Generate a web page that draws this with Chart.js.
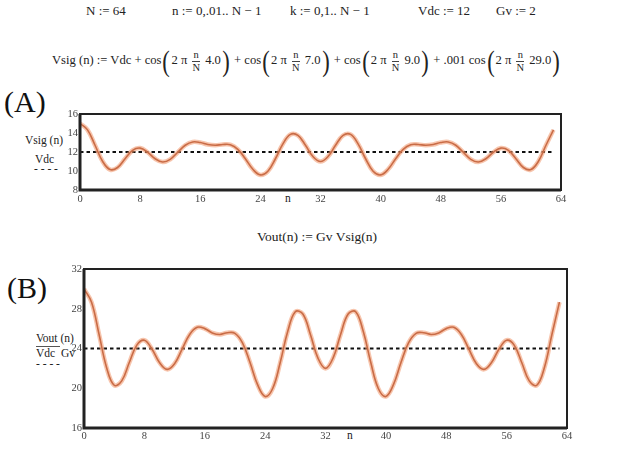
<!DOCTYPE html>
<html>
<head>
<meta charset="utf-8">
<script src="https://cdn.jsdelivr.net/npm/chart.js@4.4.1/dist/chart.umd.min.js"></script>
<style>
  html, body { margin:0; padding:0; background:#fff; }
  body { width:640px; height:473px; position:relative; overflow:hidden; font-family:"Liberation Serif","DejaVu Serif",serif; color:#222; }
  .t { position:absolute; white-space:nowrap; font-size:13px; line-height:1; }
  .lab { font-size:11.5px; }
  .big { position:absolute; font-size:30px; line-height:1; color:#111; }
  .frac { display:inline-block; vertical-align:middle; text-align:center; font-size:10.5px; line-height:1.05; margin:0 2px; }
  .frac span { display:block; }
  .frac span:first-child { border-bottom:1px solid #444; padding:0 1px; }
  .par { font-size:30px; vertical-align:middle; display:inline-block; transform:scaleX(0.75); font-weight:300; }
  .box { position:absolute; left:0; width:640px; }
</style>
</head>
<body>
<div class="t" style="left:86px;top:4px">N := 64</div>
<div class="t" style="left:172px;top:4px">n := 0,.01.. N − 1</div>
<div class="t" style="left:290px;top:4px">k := 0,1.. N − 1</div>
<div class="t" style="left:418px;top:4px">Vdc := 12</div>
<div class="t" style="left:496px;top:4px">Gv := 2</div>

<div class="t" style="left:52px;top:46px;font-size:12.6px">Vsig (n) := Vdc + cos<span class="par">(</span>2 π <span class="frac"><span>n</span><span>N</span></span> 4.0<span class="par">)</span> + cos<span class="par">(</span>2 π <span class="frac"><span>n</span><span>N</span></span> 7.0<span class="par">)</span> + cos<span class="par">(</span>2 π <span class="frac"><span>n</span><span>N</span></span> 9.0<span class="par">)</span> + .001 cos<span class="par">(</span>2 π <span class="frac"><span>n</span><span>N</span></span> 29.0<span class="par">)</span></div>

<div class="big" style="left:4px;top:87px">(A)</div>
<div class="t lab" style="left:25px;top:135px">Vsig (n)</div>
<div class="t lab" style="left:35px;top:154px">Vdc</div>
<div class="t lab" style="left:34px;top:163px">- - - -</div>
<div class="t lab" style="left:285px;top:193px">n</div>

<div class="t" style="left:257px;top:230px;font-size:13.5px">Vout(n) := Gv Vsig(n)</div>

<div class="big" style="left:7px;top:273px">(B)</div>
<div class="t lab" style="left:36px;top:333px">Vout (n)</div>
<div style="position:absolute;left:36px;top:346px;width:24px;height:1px;background:#555"></div>
<div class="t lab" style="left:36px;top:348px">Vdc&nbsp; Gv</div>
<div class="t lab" style="left:36px;top:358px">- - - -</div>
<div class="t lab" style="left:347px;top:430px">n</div>

<div class="box" style="top:100px;height:110px"><canvas id="chartA"></canvas></div>
<div class="box" style="top:255px;height:190px"><canvas id="chartB"></canvas></div>

<script>
// sample index n (integer steps of the 0..N-1 range)
const n = [0,1,2,3,4,5,6,7,8,9,10,11,12,13,14,15,16,17,18,19,20,21,22,23,24,25,26,27,28,29,30,31,
           32,33,34,35,36,37,38,39,40,41,42,43,44,45,46,47,48,49,50,51,52,53,54,55,56,57,58,59,60,61,62,63];

// Vsig(n) read at each integer n
const vsig = [15.00,14.33,12.71,11.03,10.15,10.37,11.29,12.17,12.41,11.97,11.29,10.95,11.23,11.97,12.71,13.06,
              13.00,12.79,12.71,12.79,12.77,12.28,11.29,10.18,9.59,9.98,11.29,12.86,13.85,13.74,12.71,11.52,
              11.00,11.52,12.71,13.74,13.85,12.86,11.29,9.98,9.59,10.18,11.29,12.28,12.77,12.79,12.71,12.79,
              13.00,13.06,12.71,11.97,11.23,10.95,11.29,11.97,12.41,12.17,11.29,10.37,10.15,11.03,12.71,14.33];

// Vout(n) = Gv Vsig(n)
const vout = [30.00,28.66,25.41,22.06,20.30,20.74,22.59,24.34,24.83,23.95,22.59,21.90,22.47,23.94,25.41,26.13,
              26.00,25.57,25.41,25.59,25.53,24.57,22.59,20.36,19.17,19.97,22.59,25.73,27.70,27.47,25.41,23.03,
              22.00,23.03,25.41,27.47,27.70,25.73,22.59,19.97,19.17,20.36,22.59,24.57,25.53,25.59,25.41,25.57,
              26.00,26.13,25.41,23.94,22.47,21.90,22.59,23.95,24.83,24.34,22.59,20.74,20.30,22.06,25.41,28.66];

const vdc = 12;
const vdcGv = 24;
const xTicks = [0, 8, 16, 24, 32, 40, 48, 56, 64];
const yTicksA = [8, 10, 12, 14, 16];
const yTicksB = [16, 20, 24, 28, 32];

const frame = {
  id: 'frame',
  afterDatasetsDraw(chart) {
    const { ctx, chartArea: a } = chart;
    ctx.save();
    ctx.strokeStyle = '#222';
    ctx.lineWidth = 2;
    ctx.strokeRect(a.left, a.top, a.right - a.left, a.bottom - a.top);
    ctx.lineWidth = 3;
    ctx.beginPath();
    ctx.moveTo(a.left, a.top);
    ctx.lineTo(a.left, a.bottom);
    ctx.lineTo(a.right, a.bottom);
    ctx.stroke();
    ctx.restore();
  }
};

function makeChart(id, series, level, yTicks, box) {
  const tickFont = { family: 'Liberation Serif', size: 10.5 };
  return new Chart(document.getElementById(id), {
    type: 'line',
    data: {
      labels: n,
      datasets: [
        { data: series, borderColor: 'rgba(240,150,105,0.55)', borderWidth: 4.5, pointRadius: 0, tension: 0.4 },
        { data: series, borderColor: '#9a3a1c', borderWidth: 1.6, pointRadius: 0, tension: 0.4 },
        { data: [{ x: n[0], y: level }, { x: n[n.length - 1], y: level }], borderColor: '#111',
          borderWidth: 1.8, borderDash: [3.5, 3], pointRadius: 0 }
      ]
    },
    options: {
      responsive: true, maintainAspectRatio: false, animation: false,
      layout: { padding: { top: box.top, right: box.right, left: 0, bottom: 0 } },
      plugins: { legend: { display: false }, tooltip: { enabled: false } },
      scales: {
        x: {
          type: 'linear', min: xTicks[0], max: xTicks[xTicks.length - 1],
          afterBuildTicks: s => { s.ticks = xTicks.map(v => ({ value: v })); },
          afterFit: s => { s.height = box.xh; },
          grid: { display: false, drawTicks: false, tickLength: 0 }, border: { display: false },
          ticks: { font: tickFont, color: '#444', padding: box.xpad, maxRotation: 0 }
        },
        y: {
          min: yTicks[0], max: yTicks[yTicks.length - 1],
          afterBuildTicks: s => { s.ticks = yTicks.map(v => ({ value: v })); },
          afterFit: s => { s.width = box.left; },
          grid: { display: false, drawTicks: false, tickLength: 0 }, border: { display: false },
          ticks: { font: tickFont, color: '#444', padding: 2 }
        }
      }
    },
    plugins: [frame]
  });
}

makeChart('chartA', vsig, vdc, yTicksA, { top: 14, right: 79, left: 80, xh: 20, xpad: 3 });
makeChart('chartB', vout, vdcGv, yTicksB, { top: 14, right: 73, left: 84, xh: 17, xpad: 2 });
</script>
</body>
</html>
